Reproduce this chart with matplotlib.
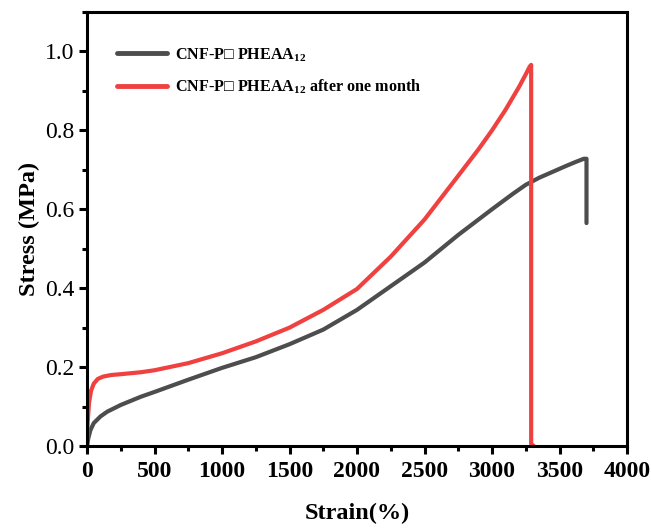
import matplotlib
matplotlib.use("Agg")
import matplotlib.pyplot as plt
from matplotlib.ticker import MultipleLocator, FormatStrFormatter

plt.rcParams['font.family'] = ['Liberation Serif', 'DejaVu Serif']
plt.rcParams['mathtext.fontset'] = 'custom'
plt.rcParams['mathtext.rm'] = 'Liberation Serif'
plt.rcParams['mathtext.bf'] = 'Liberation Serif:bold'

# Stress-strain curves (strain in %, stress in MPa)
strain_fresh = [0, 10, 25, 50, 100, 150, 250, 400, 500, 750, 1000, 1250, 1500,
                1750, 2000, 2250, 2500, 2750, 3000, 3150, 3250, 3350, 3450, 3550,
                3620, 3680, 3700, 3700]
stress_fresh = [0, 0.02, 0.04, 0.058, 0.075, 0.087, 0.104, 0.125, 0.137, 0.168,
                0.198, 0.225, 0.258, 0.295, 0.345, 0.405, 0.465, 0.535, 0.6, 0.638,
                0.662, 0.68, 0.695, 0.71, 0.72, 0.728, 0.728, 0.565]

strain_aged = [0, 5, 15, 30, 50, 80, 120, 180, 250, 400, 500, 750, 1000, 1250,
               1500, 1750, 2000, 2250, 2500, 2750, 2900, 3000, 3100, 3200, 3250,
               3280, 3290, 3290, 3310]
stress_aged = [0, 0.06, 0.11, 0.14, 0.158, 0.17, 0.176, 0.18, 0.182, 0.187, 0.192,
               0.21, 0.235, 0.265, 0.3, 0.345, 0.398, 0.48, 0.574, 0.685, 0.752,
               0.8, 0.852, 0.91, 0.942, 0.962, 0.966, 0.005, 0.0]

labels = [r"CNF-P□ PHEAA$_{\mathbf{12}}$",
          r"CNF-P□ PHEAA$_{\mathbf{12}}$ after one month"]
colors = ["#4d4d4d", "#f04141"]

fig = plt.figure(figsize=(6.51, 5.30), dpi=100)
ax = fig.add_axes([87/651, 84/530, 540/651, 434/530])

ax.plot(strain_fresh, stress_fresh, color=colors[0], lw=3.0,
        solid_capstyle='round', solid_joinstyle='round', label=labels[0])
ax.plot(strain_aged, stress_aged, color=colors[1], lw=3.0,
        solid_capstyle='round', solid_joinstyle='round', label=labels[1])

ax.set_xlim(0, 4000)
ax.set_ylim(0, 1.1)
ax.xaxis.set_major_locator(MultipleLocator(500))
ax.xaxis.set_minor_locator(MultipleLocator(250))
ax.yaxis.set_major_locator(MultipleLocator(0.2))
ax.yaxis.set_minor_locator(MultipleLocator(0.1))
ax.yaxis.set_major_formatter(FormatStrFormatter('%.1f'))

for s in ax.spines.values():
    s.set_linewidth(2.2)
ax.tick_params(which='major', direction='out', length=6, width=2.2, labelsize=17)
ax.tick_params(which='minor', direction='out', length=3.5, width=2.2)
ax.tick_params(axis='x', pad=5)
ax.tick_params(axis='y', pad=3)
for lab in ax.get_xticklabels():
    lab.set_fontweight('bold')

ax.set_xlabel("Strain(%)", fontsize=17.5, fontweight='bold', labelpad=15)
ax.set_ylabel("Stress (MPa)", fontsize=17.5, fontweight='bold', labelpad=4)

leg = ax.legend(loc='upper left', bbox_to_anchor=(0.029, 0.955), frameon=False,
                prop={'weight': 'bold', 'size': 11.6}, handlelength=3.1,
                handletextpad=0.5, labelspacing=0.85)
for line in leg.get_lines():
    line.set_linewidth(3.5)

fig.savefig("out.png", dpi=100)
